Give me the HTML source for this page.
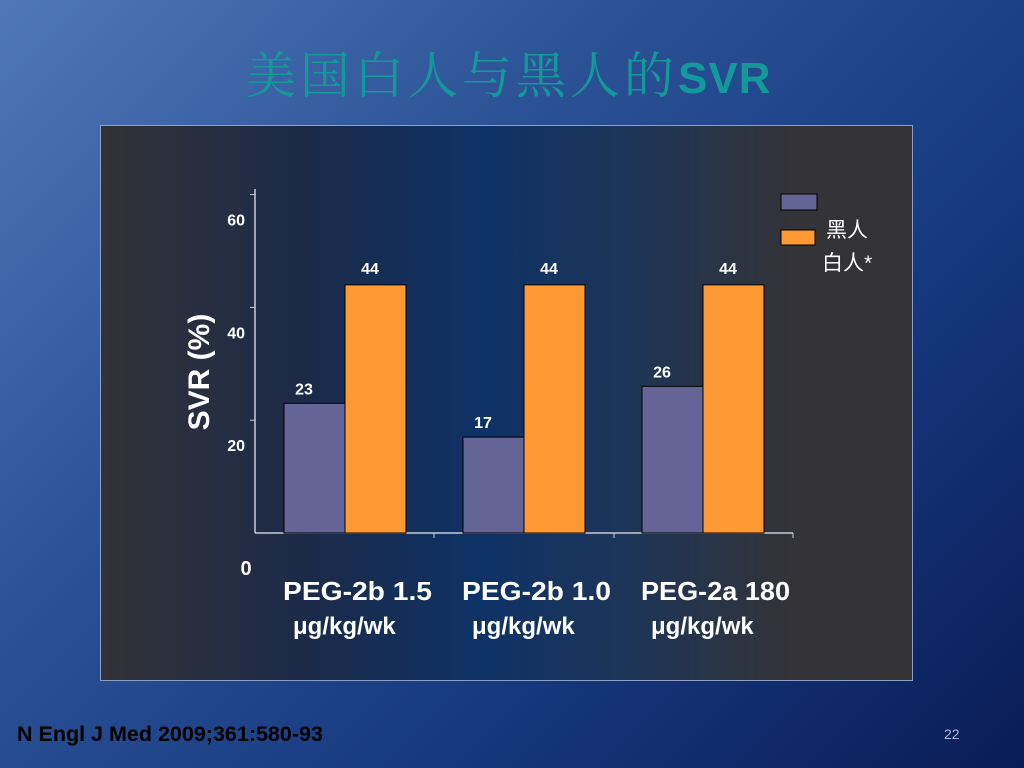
<!DOCTYPE html>
<html><head><meta charset="utf-8"><style>
html,body{margin:0;padding:0}
body{width:1024px;height:768px;position:relative;overflow:hidden;background:linear-gradient(135deg,#4f78b8 0%,#2c5296 35%,#173a80 65%,#0a1c56 100%);font-family:"Liberation Sans","Noto Sans CJK SC",sans-serif}
.t{position:absolute;white-space:nowrap}
</style></head><body>
<div class="t" style="left:246px;top:36px;font-size:50px;color:#14999a;font-family:'Liberation Mono','Noto Serif CJK SC',monospace;letter-spacing:4px">美国白人与黑人的<span style="font-family:'Liberation Sans',sans-serif;font-weight:bold;font-size:44px;letter-spacing:1px">SVR</span></div>
<div style="position:absolute;left:100px;top:125px;width:813px;height:556px;background:linear-gradient(90deg,#323238 0%,#1c2a48 25%,#0e3266 47%,#1d3558 65%,#333338 85%,#333336 100%);border:1px solid #8aa0c8;box-sizing:border-box"></div>
<svg id="chart" width="1024" height="768" style="position:absolute;left:0;top:0"></svg>
<div class="t" style="left:135px;top:355px;font-size:30px;font-weight:bold;color:#fff;transform:rotate(-90deg);transform-origin:center;width:130px;text-align:center">SVR (%)</div>
<div class="t" style="left:17px;top:722px;font-size:21.5px;font-weight:bold;color:#000">N Engl J Med 2009;361:580-93</div>
<div class="t" style="left:944px;top:726px;font-size:14px;color:#aab8d8">22</div>
<script>
const categories=["PEG-2b 1.5","PEG-2b 1.0","PEG-2a 180"];
const blackValues=[23,17,26];
const whiteValues=[44,44,44];
const yTicks=[20,40,60];
const svg=document.getElementById('chart');
const NS='http://www.w3.org/2000/svg';
const y0=533,k=5.64,axX=255;
const y=v=>y0-v*k;
const groupX=i=>284+i*179;
function mk(t,a){const e=document.createElementNS(NS,t);for(const x in a)e.setAttribute(x,a[x]);svg.appendChild(e);return e;}
let ax=mk('line',{x1:axX,y1:y(61),x2:axX,y2:y0,stroke:'#c8ccd8','stroke-width':1.5});


let bx=mk('line',{x1:axX,y1:y0,x2:793,y2:y0,stroke:'#c8ccd8','stroke-width':1.5});


yTicks.forEach(v=>{
 let tk=mk('line',{x1:axX-5,y1:y(v),x2:axX,y2:y(v),stroke:'#c8ccd8'});
 
 
 let tl=mk('text',{x:245,y:y(v)+31,'text-anchor':'end','font-size':16,'font-weight':'bold',fill:'#fff'});
 tl.textContent=v;
 
 
});
let z=mk('text',{x:246,y:575,'text-anchor':'middle','font-size':20,'font-weight':'bold',fill:'#fff'});
z.textContent='0';


[434,614,793].forEach(x=>{let t=mk('line',{x1:x,y1:y0,x2:x,y2:y0+5,stroke:'#c8ccd8'});});
categories.forEach((c,i)=>{
 const gx=groupX(i);
 let b=mk('rect',{x:gx,y:y(blackValues[i]),width:61,height:blackValues[i]*k,fill:'#646496',stroke:'#000','stroke-width':1});
 
 
 let w=mk('rect',{x:gx+61,y:y(whiteValues[i]),width:61,height:whiteValues[i]*k,fill:'#ff9933',stroke:'#000','stroke-width':1});
 
 
 let l1=mk('text',{x:gx+20,y:y(blackValues[i])-9,'text-anchor':'middle','font-size':16,'font-weight':'bold',fill:'#fff'});
 l1.textContent=blackValues[i];
 
 
 let l2=mk('text',{x:gx+86,y:y(whiteValues[i])-11,'text-anchor':'middle','font-size':16,'font-weight':'bold',fill:'#fff'});
 l2.textContent=whiteValues[i];
 
 
 let c1=mk('text',{x:gx-1,y:600,'font-size':26,'font-weight':'bold',fill:'#fff',textLength:149,lengthAdjust:'spacingAndGlyphs'});
 c1.textContent=c;
 
 
 let c2=mk('text',{x:gx+9,y:634,'font-size':24,'font-weight':'bold',fill:'#fff'});
 c2.textContent='μg/kg/wk';
 
 
});
let s1=mk('rect',{x:781,y:194,width:36,height:16,fill:'#646496',stroke:'#000'});


let s2=mk('rect',{x:781,y:230,width:34,height:15,fill:'#ff9933',stroke:'#000'});


let t1=mk('text',{x:826,y:237,'font-size':21,fill:'#fff'});
t1.textContent='黑人';


let t2=mk('text',{x:822,y:270,'font-size':21,fill:'#fff'});
t2.textContent='白人*';


</script>
</body></html>
